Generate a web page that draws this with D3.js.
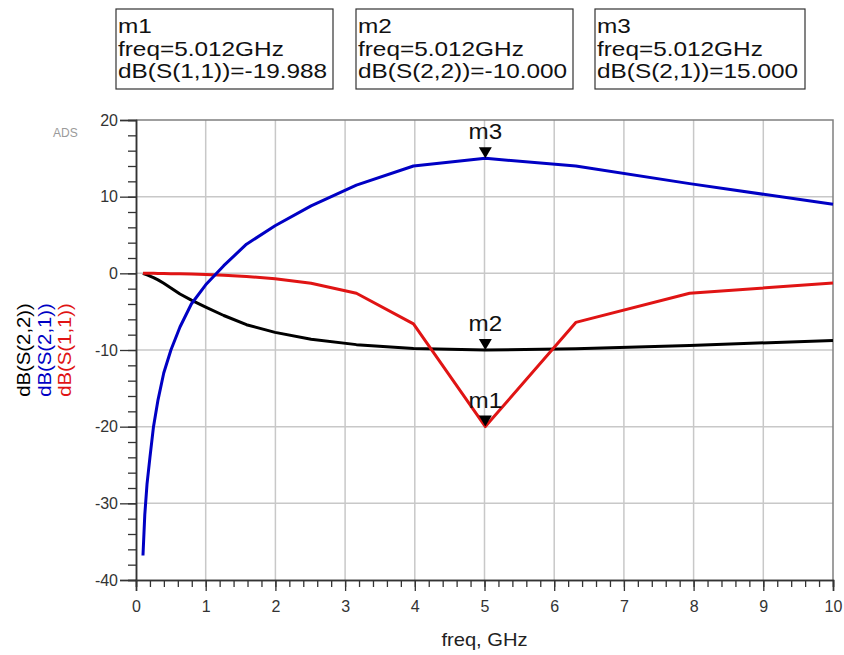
<!DOCTYPE html>
<html>
<head>
<meta charset="utf-8">
<script src="https://cdn.jsdelivr.net/npm/d3@7"></script>
<style>
  body { margin: 0; background: #fff; }
  svg { font-family: "Liberation Sans", Arial, sans-serif; }
</style>
</head>
<body>
<div id="chart"></div>
<script>
// sweep points (log sweep, GHz)
var freq = [0.1, 0.126, 0.158, 0.2, 0.251, 0.316, 0.398, 0.501, 0.631, 0.794, 1.0,
            1.259, 1.585, 1.995, 2.512, 3.162, 3.981, 5.012, 6.310, 7.943, 10.0];
// dB(S(1,1))
var s11 = [0, 0, 0, 0, 0, -0.01, -0.02, -0.04, -0.06, -0.1, -0.15,
           -0.25, -0.4, -0.7, -1.3, -2.6, -6.6, -19.988, -6.4, -2.6, -1.25];
// dB(S(2,1))
var s21 = [-36.8, -31.5, -27.5, -24, -20, -16.5, -13, -10, -7, -4, -1.5,
           1, 3.8, 6.2, 8.8, 11.5, 14.0, 15.0, 14.0, 11.7, 9.0];
// dB(S(2,2))
var s22 = [0, -0.1, -0.2, -0.35, -0.55, -0.85, -1.3, -1.9, -2.7, -3.5, -4.4,
           -5.5, -6.7, -7.7, -8.6, -9.3, -9.8, -10.0, -9.85, -9.4, -8.75];

var xTicks = [0, 1, 2, 3, 4, 5, 6, 7, 8, 9, 10];
var yTicks = [-40, -30, -20, -10, 0, 10, 20];

// markers
var markerNames = ["m1", "m2", "m3"];
var markerFreq = [5.012, 5.012, 5.012];
var markerTrace = ["dB(S(1,1))", "dB(S(2,2))", "dB(S(2,1))"];
var markerValue = [-19.988, -10.000, 15.000];

var width = 844, height = 655;
var pLeft = 136, pRight = 833, pTop = 120, pBottom = 580;

var svg = d3.select("#chart").append("svg")
    .attr("width", width)
    .attr("height", height);

var x = d3.scaleLinear().domain([0, 10]).range([pLeft, pRight]);
var y = d3.scaleLinear().domain([-40, 20]).range([pBottom, pTop]);

// grid
svg.append("g").selectAll("line")
    .data(xTicks.slice(1, -1))
  .enter().append("line")
    .attr("x1", function(d) { return x(d); })
    .attr("x2", function(d) { return x(d); })
    .attr("y1", pTop).attr("y2", pBottom)
    .attr("stroke", "#c8c8c8").attr("stroke-width", 1.5);
svg.append("g").selectAll("line")
    .data(yTicks.slice(1, -1))
  .enter().append("line")
    .attr("y1", function(d) { return y(d); })
    .attr("y2", function(d) { return y(d); })
    .attr("x1", pLeft).attr("x2", pRight)
    .attr("stroke", "#c8c8c8").attr("stroke-width", 1.5);

// top / right frame
svg.append("path")
    .attr("d", "M" + pLeft + "," + pTop + "H" + pRight + "V" + pBottom)
    .attr("fill", "none").attr("stroke", "#808080").attr("stroke-width", 1.5);

// axes
var yMinor = d3.range(-40, 20.1, 2);
var xMinor = d3.range(0, 10.01, 0.2);
var plainFmt = function(d) { return String(d); };   // hyphen minus like ADS

function styleAxis(g) {
  g.select(".domain").attr("stroke", "#333").attr("stroke-width", 1.5);
  g.selectAll(".tick line").attr("stroke", "#333").attr("stroke-width", 1.3);
  g.selectAll(".tick text").attr("fill", "#333").style("font-size", "16px");
}

svg.append("g")
    .attr("transform", "translate(" + pLeft + ",0)")
    .call(d3.axisLeft(y).tickValues(yMinor).tickSize(8).tickFormat(""))
    .call(styleAxis);
svg.append("g")
    .attr("transform", "translate(" + pLeft + ",0)")
    .call(d3.axisLeft(y).tickValues(yTicks).tickSize(16).tickPadding(2).tickFormat(plainFmt))
    .call(styleAxis);

svg.append("g")
    .attr("transform", "translate(0," + pBottom + ")")
    .call(d3.axisBottom(x).tickValues(xMinor).tickSize(7).tickFormat(""))
    .call(styleAxis);
svg.append("g")
    .attr("transform", "translate(0," + pBottom + ")")
    .call(d3.axisBottom(x).tickValues(xTicks).tickSize(11).tickPadding(10).tickFormat(plainFmt))
    .call(styleAxis);

// traces
var line = d3.line()
    .x(function(d) { return x(d[0]); })
    .y(function(d) { return y(d[1]); });

var traces = [
  {vals: s22, color: "#000000"},
  {vals: s11, color: "#e01414"},
  {vals: s21, color: "#0000c4"}
];
traces.forEach(function(t) {
  svg.append("path")
      .datum(d3.zip(freq, t.vals))
      .attr("d", line)
      .attr("fill", "none")
      .attr("stroke", t.color)
      .attr("stroke-width", 3)
      .attr("stroke-linejoin", "round");
});

// markers on traces
markerNames.forEach(function(name, i) {
  var px = x(markerFreq[i]), py = y(markerValue[i]);
  svg.append("path")
      .attr("d", "M" + (px - 6.5) + "," + (py - 11) + "H" + (px + 6.5) + "L" + px + "," + py + "Z")
      .attr("fill", "#000");
  svg.append("text")
      .attr("transform", "translate(" + px + "," + (py - 19) + ") scale(1.1,1)")
      .attr("text-anchor", "middle")
      .style("font-size", "22px")
      .attr("fill", "#111")
      .text(name);
});

// marker readout boxes
var boxX = [116, 356, 595];
var boxW = [217, 217, 210];
markerNames.forEach(function(name, i) {
  var g = svg.append("g");
  g.append("rect")
      .attr("x", boxX[i]).attr("y", 9)
      .attr("width", boxW[i]).attr("height", 80)
      .attr("fill", "#fff").attr("stroke", "#333").attr("stroke-width", 1.2);
  var lines = [name,
               "freq=" + markerFreq[i].toFixed(3) + "GHz",
               markerTrace[i] + "=" + markerValue[i].toFixed(3)];
  lines.forEach(function(s, j) {
    g.append("text")
        .attr("transform", "translate(" + (boxX[i] + 2) + "," + (33 + j * 22.5) + ") scale(1.16,1)")
        .style("font-size", "21px")
        .attr("fill", "#111")
        .text(s);
  });
});

// ADS tag
svg.append("text")
    .attr("x", 53).attr("y", 137)
    .style("font-size", "12px")
    .attr("fill", "#9a9a9a")
    .text("ADS");

// x axis title
svg.append("text")
    .attr("transform", "translate(" + x(5) + ",646) scale(1.12,1)")
    .attr("text-anchor", "middle")
    .style("font-size", "18px")
    .attr("fill", "#222")
    .text("freq, GHz");

// y axis titles
var yTitles = ["dB(S(2,2))", "dB(S(2,1))", "dB(S(1,1))"];
var yTitleColors = ["#000000", "#0000c4", "#e01414"];
yTitles.forEach(function(s, i) {
  svg.append("text")
      .attr("transform", "translate(" + (30 + i * 20.5) + ",350) rotate(-90) scale(1.13,1)")
      .attr("text-anchor", "middle")
      .style("font-size", "18px")
      .attr("fill", yTitleColors[i])
      .text(s);
});
</script>
</body>
</html>
